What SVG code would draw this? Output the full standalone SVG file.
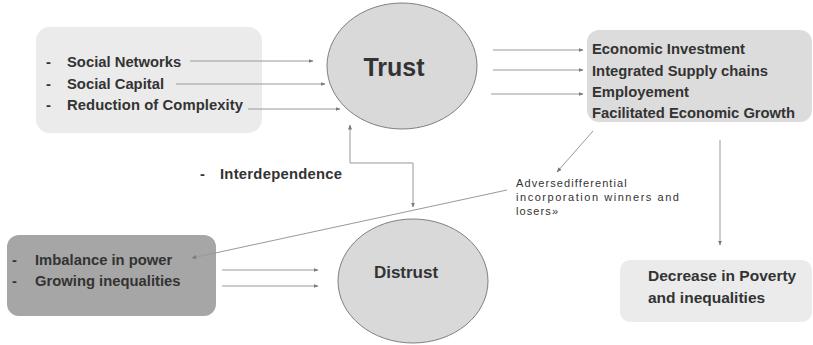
<svg xmlns="http://www.w3.org/2000/svg" width="813" height="345" viewBox="0 0 813 345">
<style>
.t{font-family:"Liberation Sans",Arial,sans-serif;font-weight:bold;fill:#333;font-size:14.8px}
.s{font-family:"Liberation Sans",Arial,sans-serif;fill:#333;font-size:11px;letter-spacing:1.1px}
.c{fill:none;stroke:#999;stroke-width:1}
</style>
<defs>
<marker id="ah" viewBox="0 0 10 10" refX="9" refY="5" markerWidth="5" markerHeight="5" orient="auto-start-reverse" markerUnits="userSpaceOnUse">
<path d="M0,1 L10,5 L0,9 z" fill="#7a7a7a"/>
</marker>
</defs>
<rect width="813" height="345" fill="#fff"/>
<g id="inputs">
<rect x="36" y="27" width="226" height="106" rx="14" fill="#ebebeb"/>
<text class="t" x="46" y="67">-</text><text class="t" x="67" y="67">Social Networks</text>
<text class="t" x="46" y="89">-</text><text class="t" x="67" y="89">Social Capital</text>
<text class="t" x="46" y="110">-</text><text class="t" x="67" y="110" textLength="176">Reduction of Complexity</text>
</g>
<g id="trust">
<ellipse cx="402" cy="66" rx="75" ry="63" fill="#d9d9d9" stroke="#7f7f7f" stroke-width="1"/>
<text class="t" x="394" y="76" text-anchor="middle" style="font-size:25px">Trust</text>
</g>
<g id="outcomes">
<rect x="587" y="30" width="225" height="92" rx="12" fill="#dcdcdc"/>
<text class="t" x="592" y="54">Economic Investment</text>
<text class="t" x="592" y="76">Integrated Supply chains</text>
<text class="t" x="592" y="97">Employement</text>
<text class="t" x="592" y="118" textLength="203">Facilitated Economic Growth</text>
</g>
<g id="interdependence">
<text class="t" x="200" y="179">-</text><text class="t" x="220" y="179" textLength="122">Interdependence</text>
</g>
<g id="adverse">
<text class="s" x="516" y="187">Adversedifferential</text>
<text class="s" x="516" y="201" textLength="164">incorporation winners and</text>
<text class="s" x="516" y="215">losers»</text>
</g>
<g id="imbalance">
<rect x="7" y="235" width="209" height="81" rx="12" fill="#a6a6a6"/>
<text class="t" x="12" y="265">-</text><text class="t" x="35" y="265">Imbalance in power</text>
<text class="t" x="12" y="286">-</text><text class="t" x="35" y="286">Growing inequalities</text>
</g>
<g id="distrust">
<ellipse cx="413" cy="281" rx="75" ry="62" fill="#d9d9d9" stroke="#7f7f7f" stroke-width="1"/>
<text class="t" x="406" y="278" text-anchor="middle" style="font-size:17px">Distrust</text>
</g>
<g id="poverty">
<rect x="620" y="260" width="192" height="62" rx="10" fill="#ebebeb"/>
<text class="t" x="648" y="281" style="font-size:15.5px">Decrease in Poverty</text>
<text class="t" x="648" y="303" style="font-size:15.5px">and inequalities</text>
</g>
<g id="connectors">
<line class="c" x1="190" y1="61" x2="313" y2="61" marker-end="url(#ah)"/>
<line class="c" x1="176" y1="84" x2="325" y2="84" marker-end="url(#ah)"/>
<line class="c" x1="248" y1="109" x2="340" y2="109" marker-end="url(#ah)"/>
<line class="c" x1="493" y1="50" x2="583" y2="50" marker-end="url(#ah)"/>
<line class="c" x1="493" y1="70" x2="583" y2="70" marker-end="url(#ah)"/>
<line class="c" x1="491" y1="94" x2="583" y2="94" marker-end="url(#ah)"/>
<line class="c" x1="593" y1="131" x2="557" y2="172" marker-end="url(#ah)"/>
<line class="c" x1="720" y1="140" x2="720" y2="245" marker-end="url(#ah)"/>
<polyline class="c" points="350,125 350,163 413,163 413,207" marker-start="url(#ah)" marker-end="url(#ah)"/>
<line class="c" x1="507" y1="190" x2="192" y2="258" marker-end="url(#ah)"/>
<line class="c" x1="222" y1="270" x2="318" y2="270" marker-end="url(#ah)"/>
<line class="c" x1="222" y1="286" x2="318" y2="286" marker-end="url(#ah)"/>
</g>
</svg>
